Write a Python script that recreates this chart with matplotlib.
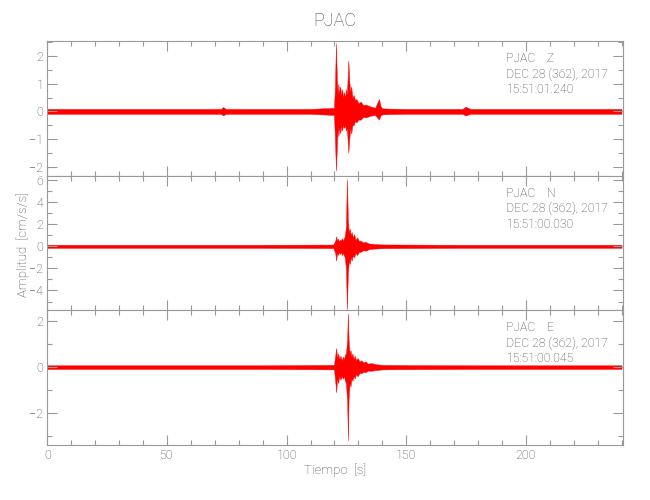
import matplotlib
matplotlib.use("Agg")
import matplotlib.pyplot as plt
from matplotlib.ticker import MultipleLocator

# envelope of each trace (time in s, upper and lower amplitude in cm/s/s)
t_z = [0, 20, 50, 72.5, 73.5, 74.5, 95, 110, 119.8, 120.2, 120.6, 121.0, 121.3, 121.6, 122.0, 122.4, 122.8,
       123.2, 123.6, 124.0, 124.4, 124.8, 125.1, 125.4, 125.8, 126.2, 126.6, 127.0, 127.5, 128.0, 128.6,
       129.2, 130.0, 131, 132, 133, 135, 137, 138.6, 139.3, 140, 143, 150, 160, 173.5, 174.8, 176, 177,
       190, 210, 225, 240]
up_z = [0.09, 0.09, 0.09, 0.09, 0.16, 0.09, 0.09, 0.09, 0.13, 0.9, 2.47, 1.2, 0.6, 1.0, 0.7, 0.9, 0.6,
        0.8, 0.5, 0.7, 0.5, 0.8, 0.6, 1.0, 1.85, 1.1, 0.7, 0.9, 0.5, 0.6, 0.4,
        0.45, 0.3, 0.35, 0.22, 0.25, 0.18, 0.13, 0.45, 0.18, 0.11, 0.1, 0.09, 0.09, 0.09, 0.17, 0.12, 0.09,
        0.09, 0.09, 0.09, 0.09]
lo_z = [-0.09, -0.09, -0.09, -0.09, -0.15, -0.09, -0.09, -0.09, -0.13, -1.0, -2.15, -1.3, -0.6, -0.9, -0.6, -0.8, -0.5,
        -0.7, -0.5, -0.6, -0.5, -0.7, -0.6, -0.9, -1.5, -1.0, -0.6, -0.8, -0.5, -0.5, -0.35,
        -0.4, -0.3, -0.3, -0.2, -0.22, -0.16, -0.13, -0.3, -0.14, -0.11, -0.1, -0.09, -0.09, -0.09, -0.15, -0.11, -0.09,
        -0.09, -0.09, -0.09, -0.09]

t_n = [0, 30, 60, 90, 119.5, 120.3, 120.7, 121.1, 121.5, 121.9, 122.3, 122.7, 123.1, 123.5, 123.9, 124.3,
       124.8, 125.2, 125.6, 126.0, 126.4, 126.8, 127.2, 127.7, 128.2, 128.8, 129.5, 130.2, 131, 132,
       133, 134.5, 136, 140, 150, 170, 200, 240]
up_n = [0.14, 0.14, 0.14, 0.14, 0.16, 0.5, 0.9, 0.5, 0.7, 0.4, 0.6, 0.5, 0.75, 0.5, 0.7, 0.9,
        1.8, 6.1, 2.5, 1.2, 1.6, 1.0, 1.3, 0.8, 1.1, 0.6, 0.8, 0.5, 0.5, 0.35,
        0.4, 0.25, 0.22, 0.17, 0.16, 0.14, 0.14, 0.14]
lo_n = [-0.14, -0.14, -0.14, -0.14, -0.16, -0.6, -1.3, -0.6, -0.8, -0.5, -0.7, -0.5, -0.8, -0.6, -0.8, -1.0,
        -2.0, -5.7, -2.5, -1.3, -1.6, -1.0, -1.3, -0.8, -1.0, -0.6, -0.8, -0.5, -0.5, -0.35,
        -0.4, -0.25, -0.22, -0.17, -0.16, -0.14, -0.14, -0.14]

t_e = [0, 30, 60, 90, 119.8, 120.3, 120.7, 121.1, 121.5, 122.0, 122.5, 123.0, 123.5, 124.0, 124.4, 124.8,
       125.3, 125.6, 125.9, 126.3, 126.7, 127.1, 127.5, 128.0, 128.5, 129, 129.7, 130.5, 131.3, 132,
       133, 134, 135.5, 137, 140, 150, 180, 210, 240]
up_e = [0.08, 0.08, 0.08, 0.08, 0.1, 0.5, 0.83, 0.4, 0.6, 0.35, 0.5, 0.3, 0.45, 0.35, 0.55, 0.6,
        1.2, 2.35, 1.2, 0.6, 0.75, 0.45, 0.6, 0.35, 0.5, 0.3, 0.4, 0.25, 0.3, 0.2,
        0.25, 0.15, 0.18, 0.13, 0.1, 0.09, 0.08, 0.08, 0.08]
lo_e = [-0.08, -0.08, -0.08, -0.08, -0.1, -0.6, -1.1, -0.5, -0.7, -0.4, -0.55, -0.4, -0.5, -0.4, -0.6, -0.7,
        -1.5, -3.2, -1.4, -0.7, -0.85, -0.5, -0.6, -0.4, -0.5, -0.3, -0.4, -0.25, -0.27, -0.2,
        -0.22, -0.15, -0.16, -0.13, -0.1, -0.09, -0.08, -0.08, -0.08]

channels = ["Z", "N", "E"]
start_times = ["15:51:01.240", "15:51:00.030", "15:51:00.045"]
date_label = "DEC 28 (362), 2017"
station = "PJAC"

plt.rcParams['font.family'] = ['Roboto', 'DejaVu Sans']
plt.rcParams['font.weight'] = 'light'
txt = '#484848'
edge = '#999999'

fig = plt.figure(figsize=(6.5, 5), dpi=100)
left, width = 0.073, 0.885
h = (0.918 - 0.11) / 3

traces = [(t_z, up_z, lo_z), (t_n, up_n, lo_n), (t_e, up_e, lo_e)]
ylims = [(-2.33, 2.55), (-5.8, 6.4), (-3.4, 2.48)]
majors = [1, 2, 2]
minors = [0.5, 1, 1]

for i in range(3):
    ax = fig.add_axes([left, 0.918 - h * (i + 1), width, h])
    t, up, lo = traces[i]
    ax.fill_between(t, lo, up, color='red', linewidth=0.3, edgecolor='red')
    ax.set_xlim(0, 240.5)
    ax.set_ylim(*ylims[i])
    ax.xaxis.set_major_locator(MultipleLocator(50))
    ax.xaxis.set_minor_locator(MultipleLocator(10))
    ax.yaxis.set_major_locator(MultipleLocator(majors[i]))
    ax.yaxis.set_minor_locator(MultipleLocator(minors[i]))
    ax.tick_params(which='both', direction='in', top=True, right=True, color=edge,
                   labelcolor=txt, labelsize=9, width=0.8, pad=3)
    ax.tick_params(which='major', length=7)
    ax.tick_params(which='minor', length=3.5)
    for s in ax.spines.values():
        s.set_color(edge)
        s.set_linewidth(0.8)
    if i < 2:
        ax.set_xticklabels([])
    ax.text(0.798, 0.87, station + "    " + channels[i], transform=ax.transAxes,
            fontsize=8.8, color=txt, va='center')
    ax.text(0.798, 0.755, date_label, transform=ax.transAxes, fontsize=8.8, color=txt, va='center')
    ax.text(0.798, 0.64, start_times[i], transform=ax.transAxes, fontsize=8.8, color=txt, va='center')

fig.text(0.515, 0.958, station, ha='center', va='center', fontsize=13, color=txt)
fig.text(0.515, 0.06, "Tiempo  [s]", ha='center', va='center', fontsize=9.5, color=txt)
fig.text(0.036, 0.51, "Amplitud  [cm/s/s]", ha='center', va='center', rotation=90,
         fontsize=9.5, color=txt)

fig.savefig("out.png", dpi=100)
